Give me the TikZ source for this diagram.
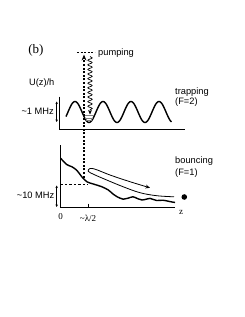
\documentclass[tikz,border=0pt]{standalone}
\usepackage{fontspec}
\setmainfont{Liberation Serif}
\setsansfont{Liberation Sans}
\usetikzlibrary{arrows.meta,decorations.pathmorphing}
\begin{document}
\begin{tikzpicture}[x=1pt,y=-1pt,
  lbl/.style={font=\sffamily\fontsize{9.3}{10}\selectfont, inner sep=0pt},
  serif/.style={font=\fontsize{9}{10}\selectfont, inner sep=0pt},
  axis/.style={line width=1pt},
  curve/.style={line width=1.4pt},
  tipA/.style={-{Stealth[length=6pt,width=4.8pt]}},
  dbl/.style={line width=0.7pt,{Stealth[length=2.5pt,width=2.5pt]}-{Stealth[length=2.5pt,width=2.5pt]}},
  dsh/.style={line width=1.2pt, dash pattern=on 2pt off 1.6pt}]
\useasboundingbox (0,0) rectangle (245,317);
% labels
\node[font=\fontsize{13}{14}\selectfont, inner sep=0pt] (b) at (36,50) {(b)};
\node[lbl, anchor=base west] (pump) at (98,55) {pumping};
\node[lbl] (U) at (41.7,83.5) {U(z)/h};
\node[lbl, anchor=base west] (trap) at (175,94.5) {trapping};
\node[lbl, anchor=base west] (F2) at (175,104.5) {(F=2)};
\node[lbl, anchor=east] (MHz1) at (54,111) {\textasciitilde 1 MHz};
\node[lbl, anchor=base west] (bounce) at (175,163.5) {bouncing};
\node[lbl, anchor=base west] (F1) at (175,175.5) {(F=1)};
\node[lbl, anchor=east] (MHz10) at (54.5,195) {\textasciitilde 10 MHz};
\node[serif] (zero) at (60.7,216.5) {0};
\node[serif] (lam) at (88,218) {\textasciitilde λ/2};
\node[serif] (z) at (181,212) {z};
% upper plot axes
\coordinate (uo) at (60,129.5);
\draw[axis] (60,96.5) -- (uo) -- (185,129.5);
% sine potential
\draw[curve] plot[domain=66:171.5, samples=120, smooth] (\x, {112 - 10.5*cos(12.857*(\x-75))});
% levels in trough
\draw[line width=0.5pt, gray] (83.5,115.5) -- (94.5,115.5)
  (84.7,118) -- (93.3,118) (86.2,120.5) -- (91.8,120.5);
% double arrow 1 MHz
\draw[dbl] (56.7,101.5) -- (56.7,122);
% pumping level
\draw[dsh, line width=1.5pt] (77,52.7) -- (95,52.7);
% vertical dashed arrow
\coordinate (vb) at (84,177.5);
\coordinate (vt) at (84,54.5);
\draw[dsh, tipA] (vb) -- (vt);
% wavy arrow
\coordinate (wt) at (90,56.5);
\coordinate (wb) at (90,114.5);
\draw[line width=0.7pt, -{Stealth[length=4.5pt,width=3.8pt]},
  decorate, decoration={snake, segment length=4.6pt, amplitude=2.2pt, post length=4.5pt}] (wt) -- (wb);
% lower plot axes
\draw[axis] (60.5,145) -- (60.5,207) -- (175,207);
\draw[axis] (88.3,203.5) -- (88.3,207);
% lower curve
\draw[curve] plot[smooth, tension=0.55] coordinates {(60.7,158.3) (66.7,164.5) (72,166.8) (77,170.5) (82,177) (87,181.8) (93.3,184) (101.7,186.7) (108.3,190) (113,194) (117,196.7) (123.3,199.2) (128,198.2) (133,196.8) (138,198.8) (142,200) (147,199) (150,198.4) (156.7,200.5) (163,200.2) (170,201.6) (175,202.5)};
% dashed level
\draw[line width=0.6pt, dash pattern=on 2.5pt off 2pt] (60.5,184.3) -- (88.5,184.3);
% double arrow 10 MHz
\draw[dbl] (56.7,185.5) -- (56.7,207);
% bouncing loop
\draw[line width=0.8pt, -{Stealth[length=4.5pt,width=3.8pt]}] plot[smooth, tension=0.6] coordinates {(174,196.8) (156.7,195.7) (140,192.7) (123,186.7) (106.7,180) (94,174.5) (88.3,171.3) (90,168.5) (96,169.5) (110,175) (130,181.7) (150,187.8)};
% atom
\fill (184.3,197) circle (2.8pt);
\end{tikzpicture}
\end{document}
